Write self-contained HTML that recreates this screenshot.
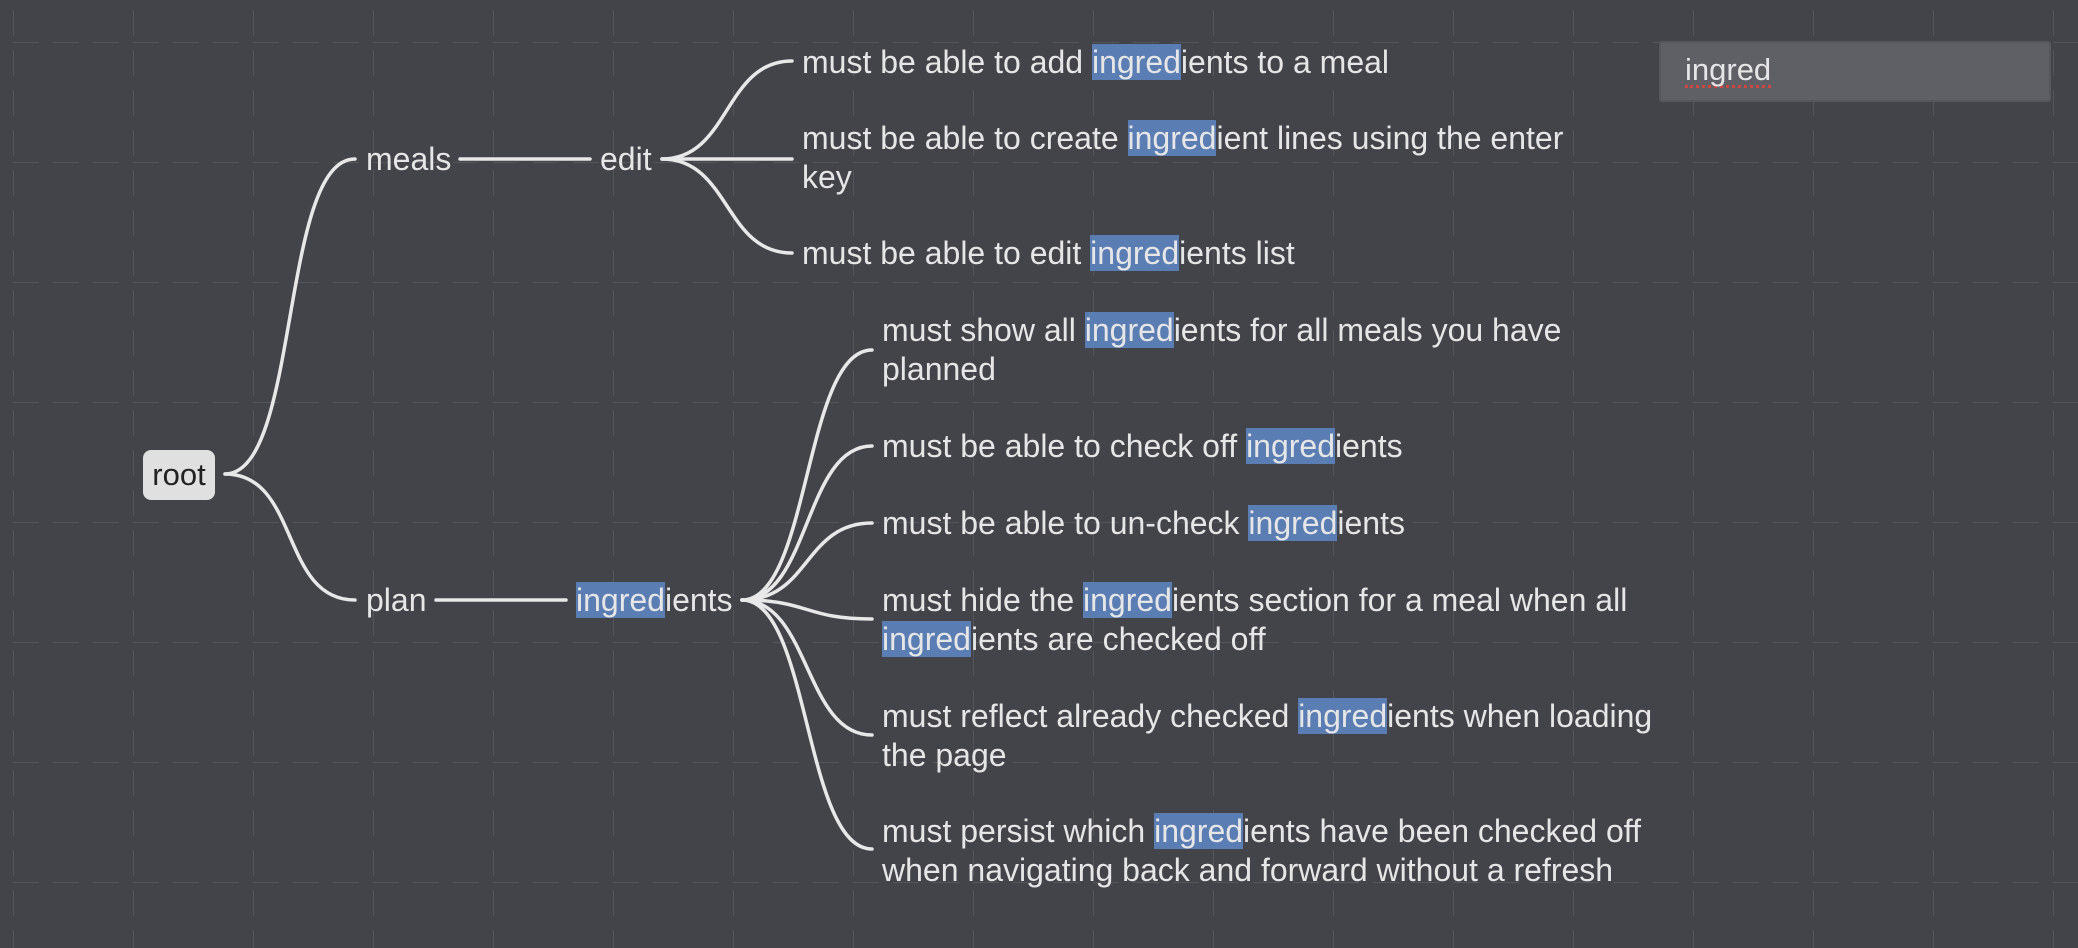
<!DOCTYPE html>
<html><head><meta charset="utf-8"><style>
html,body{margin:0;padding:0;}
body{width:2078px;height:948px;background:#434449;position:relative;overflow:hidden;font-family:"Liberation Sans",Arial,sans-serif;}
.t{position:absolute;color:#e6e6e6;font-size:32px;line-height:39px;white-space:nowrap;}
.h{background:#5a7db4;}
#root{position:absolute;left:143px;top:450px;width:72px;height:50px;background:#e0e0e0;border-radius:8px;color:#222;font-size:31px;line-height:50px;text-align:center;}
#search{position:absolute;left:1659px;top:41px;width:392px;height:61px;background:#5f6066;border:2px solid #56575c;border-radius:3px;box-sizing:border-box;}
#search span{position:absolute;left:24px;top:12px;font-size:31px;color:#e6e6e6;border-bottom:3px dotted #d0463f;line-height:30px;}
</style></head><body>
<svg width="2078" height="948" style="position:absolute;left:0;top:0">
<defs>
<pattern id="g" x="13" y="42" width="120" height="120" patternUnits="userSpaceOnUse">
<line x1="0" y1="0" x2="120" y2="0" stroke="#55565b" stroke-width="2" stroke-dasharray="26 14"/>
<line x1="0" y1="0" x2="0" y2="120" stroke="#55565b" stroke-width="2" stroke-dasharray="26 14" stroke-dashoffset="-8"/>
</pattern>
</defs>
<rect width="2078" height="948" fill="url(#g)"/>
<g fill="none" stroke="#e8e8e8" stroke-width="3.5" stroke-linecap="round">
<path d="M225 474 C300 474 280 159 355 159"/>
<path d="M225 474 C300 474 280 600 355 600"/>
<path d="M460 159 L590 159"/>
<path d="M436 600 L566 600"/>
<path d="M662 159 C730 159 724 61 792 61"/>
<path d="M662 159 L792 159"/>
<path d="M662 159 C730 159 724 253 792 253"/>
<path d="M742 600 C810 600 804 350 872 350"/>
<path d="M742 600 C810 600 804 446 872 446"/>
<path d="M742 600 C810 600 804 523 872 523"/>
<path d="M742 600 C810 600 804 619 872 619"/>
<path d="M742 600 C810 600 804 735 872 735"/>
<path d="M742 600 C810 600 804 849 872 849"/>
</g>
</svg>
<div id="root">root</div>
<div class="t" style="left:366px;top:140px">meals</div>
<div class="t" style="left:600px;top:140px">edit</div>
<div class="t" style="left:366px;top:581px">plan</div>
<div class="t" style="left:576px;top:581px"><span class="h">ingred</span>ients</div>
<div class="t" style="left:802px;top:43px">must be able to add <span class="h">ingred</span>ients to a meal</div>
<div class="t" style="left:802px;top:119px">must be able to create <span class="h">ingred</span>ient lines using the enter<br>key</div>
<div class="t" style="left:802px;top:234px">must be able to edit <span class="h">ingred</span>ients list</div>
<div class="t" style="left:882px;top:311px">must show all <span class="h">ingred</span>ients for all meals you have<br>planned</div>
<div class="t" style="left:882px;top:427px">must be able to check off <span class="h">ingred</span>ients</div>
<div class="t" style="left:882px;top:504px">must be able to un-check <span class="h">ingred</span>ients</div>
<div class="t" style="left:882px;top:581px">must hide the <span class="h">ingred</span>ients section for a meal when all<br><span class="h">ingred</span>ients are checked off</div>
<div class="t" style="left:882px;top:697px">must reflect already checked <span class="h">ingred</span>ients when loading<br>the page</div>
<div class="t" style="left:882px;top:812px">must persist which <span class="h">ingred</span>ients have been checked off<br>when navigating back and forward without a refresh</div>
<div id="search"><span>ingred</span></div>
</body></html>
